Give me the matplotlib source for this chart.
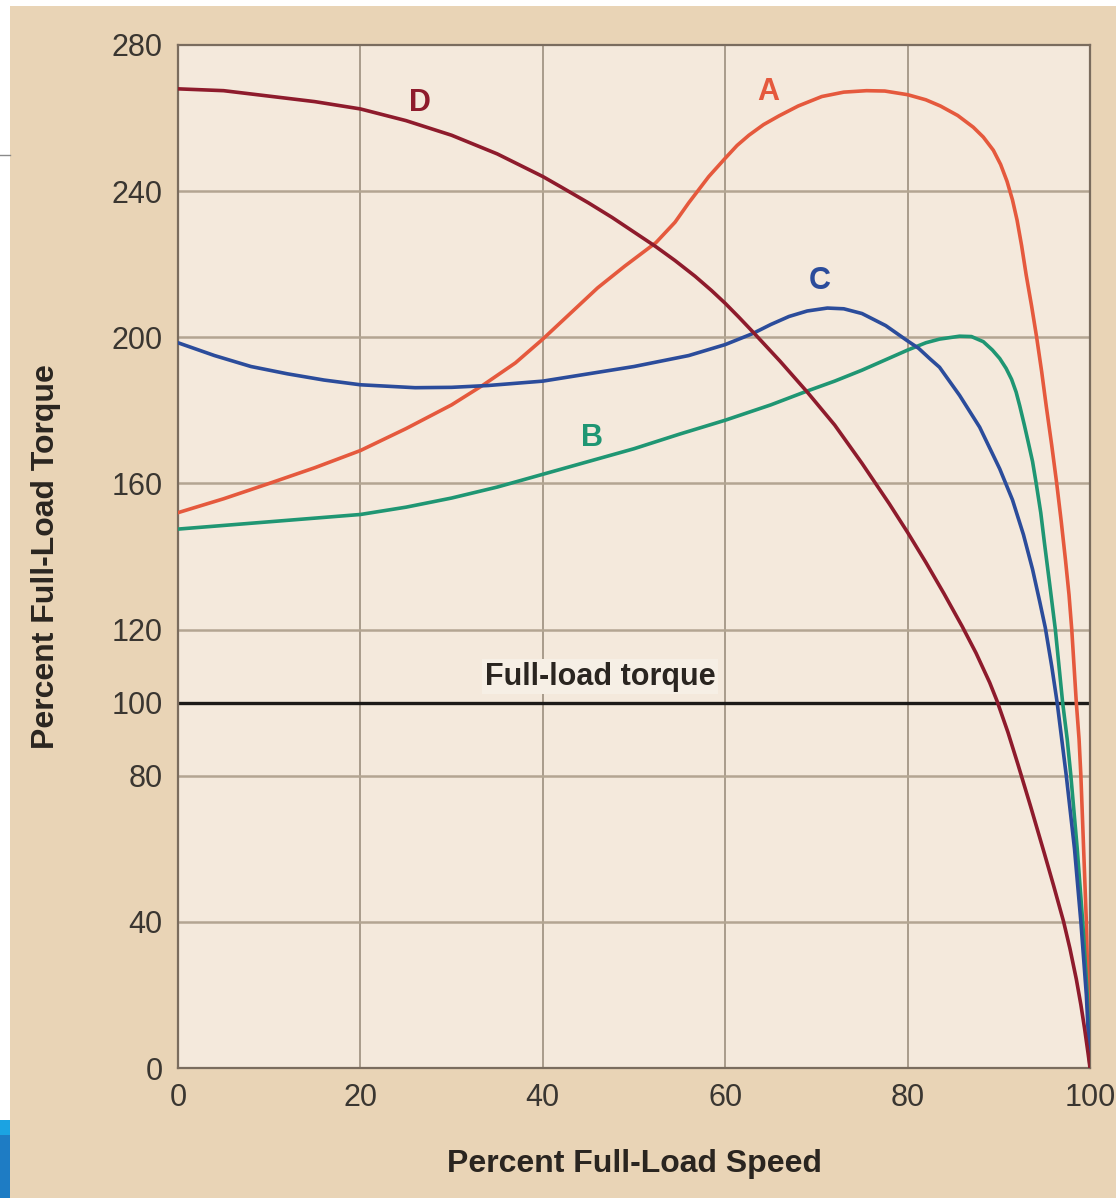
import matplotlib
matplotlib.use("Agg")
import matplotlib.pyplot as plt
from matplotlib.patches import Rectangle
from matplotlib.lines import Line2D

# torque-speed curves (percent speed, percent torque)
a_speed = [0, 5, 10, 15, 20, 25, 30, 33.5, 37, 40, 43, 46, 49, 52.4, 54.5, 56, 58.2,
           60, 61.3, 62.6, 64.2, 65.9, 68, 70.6, 73, 75.5, 77.5, 80, 82, 83.6, 85.5,
           87.2, 88.3, 89.4, 90.2, 90.9, 91.5, 92, 92.5, 93, 93.6, 94.15, 94.7, 95.2,
           95.8, 96.35, 96.85, 97.3, 97.7, 98, 98.5, 98.8, 99, 99.3, 99.6, 99.8, 100]
a_torque = [152, 155.8, 160, 164.3, 169, 175, 181.5, 187, 193, 199.5, 206.5, 213.5,
            219.5, 225.9, 231.5, 236.8, 244, 249, 252.5, 255.3, 258.2, 260.6, 263.3,
            265.9, 267.1, 267.5, 267.4, 266.4, 265, 263.3, 260.7, 257.5, 254.8, 251.2,
            247.3, 242.7, 237.6, 232.1, 225.1, 217.1, 208.5, 200, 190.6, 181.2, 170.5,
            160, 149.5, 139.3, 129.5, 120, 100, 90, 80, 60, 40, 20, 0]

b_speed = [0, 5, 10, 15, 20, 25, 30, 35, 40, 45, 50, 55, 60, 65, 69, 72, 75, 78, 80, 82,
           83.5, 85.7, 87, 88.3, 89.3, 90.1, 90.8, 91.4, 91.9, 92.3, 92.8, 93.2, 93.7,
           94.1, 94.6, 95, 95.6, 96.2, 96.6, 97, 97.5, 97.9, 98.6, 99.2, 99.7, 100]
b_torque = [147.5, 148.5, 149.5, 150.5, 151.5, 153.5, 156, 159, 162.5, 166, 169.5, 173.5,
            177.3, 181.5, 185.3, 188, 191, 194.3, 196.5, 198.5, 199.5, 200.3, 200.2, 198.8,
            196.5, 194.2, 191.5, 188.5, 185, 181.2, 176, 171.6, 166, 160, 152, 143.8, 132,
            120, 110, 100, 90, 80, 60, 40, 20, 0]

c_speed = [0, 4, 8, 12, 16, 20, 26, 30, 34, 40, 45, 50, 56, 60, 63, 65, 67, 69, 71.2, 73,
           75, 77.6, 80, 81.2, 82.5, 83.5, 85.7, 87.9, 90.1, 91.5, 92.7, 93.7, 94.5, 95.1,
           95.8, 96.4, 97.4, 98.3, 99, 99.6, 100]
c_torque = [198.5, 195, 192, 190, 188.3, 187, 186.2, 186.3, 186.8, 188, 190, 192, 195,
            198, 201, 203.5, 205.7, 207.2, 208, 207.8, 206.5, 203.2, 199, 197, 194, 191.8,
            184.1, 175.4, 164, 155.5, 146, 136.5, 127.5, 120.5, 110, 100, 80, 60, 40, 20, 0]

d_speed = [0, 5, 10, 15, 20, 25, 30, 35, 40, 42.1, 45, 47.6, 50, 52.4, 54.5, 56.7, 58.5,
           60, 61.5, 63.1, 66, 69, 72, 75, 78, 80, 82, 84, 86, 87.5, 89, 89.8, 91, 92.1,
           93.5, 95, 96, 97.1, 97.8, 98.5, 99, 99.4, 99.8, 100]
d_torque = [268, 267.5, 266, 264.5, 262.5, 259.3, 255.3, 250.2, 244, 241, 236.8, 232.8,
            228.8, 224.8, 221, 216.7, 212.8, 209.3, 205.5, 201.3, 193.5, 185, 176, 165.5,
            154.4, 146.6, 138.4, 129.8, 120.8, 113.6, 105.5, 100.5, 91.9, 83.1, 71.5,
            58.7, 50, 40.1, 32.7, 24.3, 17.3, 10.9, 3.8, 0]

full_load = 100

x_ticks = [0, 20, 40, 60, 80, 100]
y_ticks = [0, 40, 80, 100, 120, 160, 200, 240, 280]
y_grid = [40, 80, 120, 160, 200, 240]

# curve name, label position, colour
curves = [
    ("A", a_speed, a_torque, (64.7, 267), "#e5593d"),
    ("B", b_speed, b_torque, (45.4, 172.5), "#1f9673"),
    ("C", c_speed, c_torque, (70.4, 215.5), "#2b4c9b"),
    ("D", d_speed, d_torque, (26.5, 264), "#8e1b2c"),
]

SANS = ["Liberation Sans", "DejaVu Sans"]

W, H = 1116, 1198
fig = plt.figure(figsize=(W / 100, H / 100), dpi=100, facecolor="#e9d4b6")

# slide leftovers round the edges
fig.patches.append(Rectangle((0, 0), 10 / W, 1, transform=fig.transFigure,
                             facecolor="white", edgecolor="none", zorder=5))
fig.patches.append(Rectangle((0, 1 - 6 / H), 1, 6 / H, transform=fig.transFigure,
                             facecolor="white", edgecolor="none", zorder=5))
fig.patches.append(Rectangle((0, 0), 10 / W, 63 / H, transform=fig.transFigure,
                             facecolor="#1e7cc4", edgecolor="none", zorder=6))
fig.patches.append(Rectangle((0, 63 / H), 10 / W, 15 / H, transform=fig.transFigure,
                             facecolor="#1ba3e2", edgecolor="none", zorder=6))
fig.lines.append(Line2D([0, 10 / W], [1 - 155 / H] * 2, transform=fig.transFigure,
                        color="#8a8a8a", lw=1, zorder=6))

ax = fig.add_axes([178 / W, 1 - 1068 / H, (1090 - 178) / W, (1068 - 45) / H])
ax.set_facecolor("#f4e9dc")
ax.set_xlim(0, 100)
ax.set_ylim(0, 280)

for spine in ax.spines.values():
    spine.set_color("#7a6c5e")
    spine.set_linewidth(1.6)

for gx in x_ticks[1:-1]:
    ax.axvline(gx, color="#9c8e7e", lw=1.2, zorder=1)
for gy in y_grid:
    ax.axhline(gy, color="#b3a592", lw=1.8, zorder=1)

ax.axhline(full_load, color="#1c1a18", lw=2.4, zorder=2)
ax.text(46.3, full_load + 3, "Full-load torque", fontsize=22, fontweight="bold",
        color="#2a2520", ha="center", va="bottom", family=SANS,
        bbox=dict(facecolor="#f6efe5", edgecolor="none", pad=2), zorder=2.5)

for name, xs, ys, (lx, ly), col in curves:
    ax.plot(xs, ys, color=col, lw=2.6, solid_joinstyle="round",
            solid_capstyle="round", zorder=3)
    ax.text(lx, ly, name, color=col, fontsize=22, fontweight="bold",
            ha="center", va="center", family=SANS)

ax.set_xticks(x_ticks)
ax.set_yticks(y_ticks)
ax.set_xticklabels([str(v) for v in x_ticks])
ax.set_yticklabels([str(v) for v in y_ticks])
ax.tick_params(length=0, labelsize=22, labelcolor="#3a3631", pad=11)
for lab in ax.get_xticklabels() + ax.get_yticklabels():
    lab.set_family(SANS)

ax.set_xlabel("Percent Full-Load Speed", fontsize=23, fontweight="bold",
              color="#2a2520", labelpad=26, family=SANS)
ax.set_ylabel("Percent Full-Load Torque", fontsize=23, fontweight="bold",
              color="#2a2520", labelpad=36, family=SANS)

fig.savefig("out.png", dpi=100, facecolor=fig.get_facecolor())
